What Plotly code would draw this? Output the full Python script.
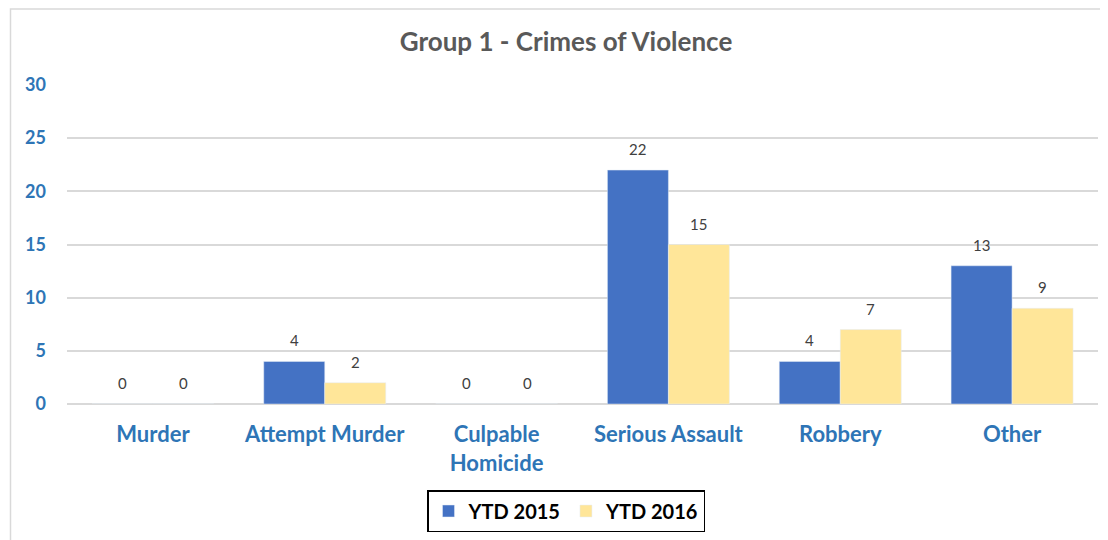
import plotly.graph_objects as go

categories = ["Murder", "Attempt Murder", "Culpable<br>Homicide", "Serious Assault", "Robbery", "Other"]
ytd_2015 = [0, 4, 0, 22, 4, 13]
ytd_2016 = [0, 2, 0, 15, 7, 9]
y_ticks = [0, 5, 10, 15, 20, 25, 30]

W, H = 1108, 540
OFF = 8  # page body margin offset
ml, mt = 67 - OFF, 85 - OFF
pw, ph = 1031, 319
mr, mb = W - ml - pw, H - mt - ph

FONT = "Lato"
BLUE, YELLOW = "#4472C4", "#FFE699"

fig = go.Figure()
fig.add_trace(go.Bar(name="YTD 2015", x=categories, y=ytd_2015, marker_color=BLUE))
fig.add_trace(go.Bar(name="YTD 2016", x=categories, y=ytd_2016, marker_color=YELLOW))

# data labels above each bar
bar_half = 30.5
for series, dx in ((ytd_2015, -bar_half), (ytd_2016, bar_half)):
    for cat, val in zip(categories, series):
        fig.add_annotation(x=cat, y=val, text=str(val), showarrow=False,
                           xshift=dx, yshift=21, yanchor="middle", xanchor="center",
                           font=dict(family=FONT, size=15, color="#404040"))

def px_x(p):
    return (p - OFF - ml) / pw

def px_y(p):
    return 1 - (p - OFF - mt) / ph

fig.update_layout(
    width=W, height=H,
    margin=dict(l=ml, r=mr, t=mt, b=mb),
    paper_bgcolor="white", plot_bgcolor="white",
    barmode="group", bargap=0.29, bargroupgap=0,
    title=dict(text="<b>Group 1 - Crimes of Violence</b>", x=(566 - OFF) / W, xanchor="center",
               y=1 - (42 - OFF) / H, yanchor="middle",
               font=dict(family=FONT, size=26, color="#595959")),
    font=dict(family=FONT),
    showlegend=True,
    legend=dict(orientation="h", x=px_x(566), xanchor="center", y=px_y(511), yanchor="middle",
                bordercolor="black", borderwidth=1.5,
                font=dict(family=FONT, size=20, color="black", weight="bold")),
)
fig.update_yaxes(range=[0, 30], tickvals=y_ticks, showgrid=True, gridcolor="#D9D9D9", gridwidth=1.5,
                 zeroline=True, zerolinecolor="#D9D9D9", zerolinewidth=1.5, showline=False,
                 ticklabelstandoff=20,
                 tickfont=dict(family=FONT, size=18, color="#2E75B6", weight="bold"))
fig.update_xaxes(showline=False, ticks="", ticklabelstandoff=15,
                 tickfont=dict(family=FONT, size=22, color="#2E75B6", weight="bold"))

fig.add_shape(type="rect", xref="paper", yref="paper",
              x0=px_x(10.5), x1=px_x(1125), y0=px_y(570), y1=px_y(9),
              line=dict(color="#D9D9D9", width=1.5), fillcolor="rgba(0,0,0,0)", layer="below")

fig.write_html("out.html")
